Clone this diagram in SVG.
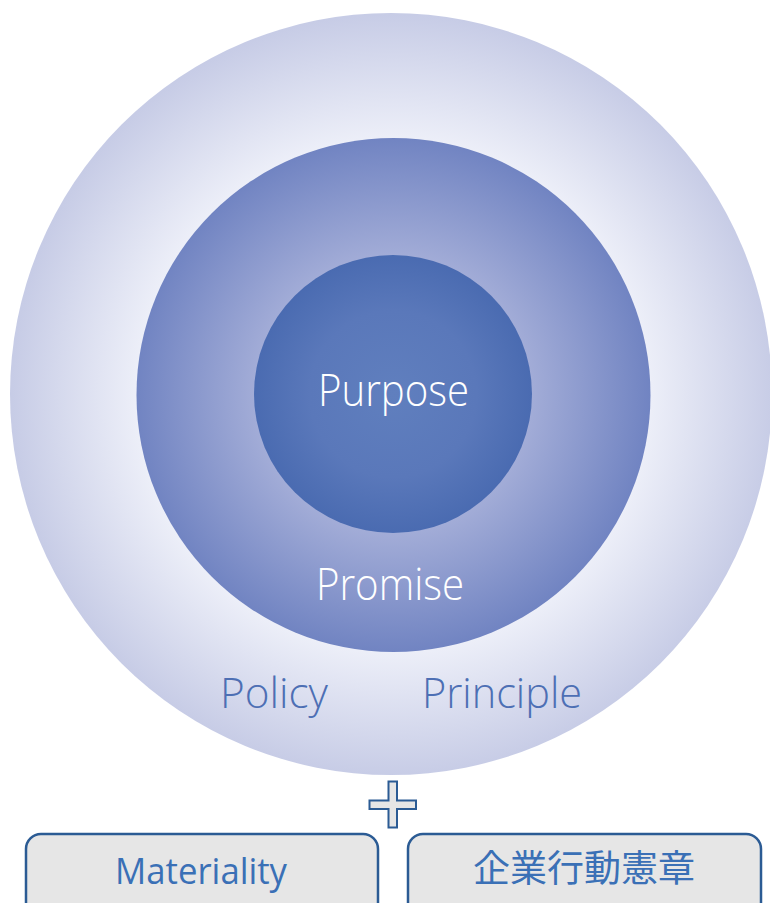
<svg xmlns="http://www.w3.org/2000/svg" width="770" height="903" viewBox="0 0 770 903">
  <defs>
    <radialGradient id="gOuter" cx="393" cy="395" r="381" gradientUnits="userSpaceOnUse">
      <stop offset="0" stop-color="#ffffff"/>
      <stop offset="0.66" stop-color="#eef0f9"/>
      <stop offset="1" stop-color="#c7cce6"/>
    </radialGradient>
    <radialGradient id="gMiddle" cx="393" cy="395" r="257" gradientUnits="userSpaceOnUse">
      <stop offset="0" stop-color="#b4bce0"/>
      <stop offset="0.54" stop-color="#a2acd7"/>
      <stop offset="1" stop-color="#7184c2"/>
    </radialGradient>
    <radialGradient id="gInner" cx="393" cy="394" r="139" gradientUnits="userSpaceOnUse">
      <stop offset="0" stop-color="#607fbe"/>
      <stop offset="0.6" stop-color="#5a78ba"/>
      <stop offset="1" stop-color="#4a6bb1"/>
    </radialGradient>
  </defs>
  <style>
    .lbl { font-family: "Open Sans", "Noto Sans", "Liberation Sans", sans-serif; font-weight: 300; }
    .white { fill: #ffffff; }
    .ring { fill: #4d6fb4; }
    .box { fill: #e6e6e6; stroke: #2b5b94; stroke-width: 2.5; }
    .boxtext { fill: #3a70b6; font-family: "Open Sans", "Noto Sans", "Noto Sans CJK JP", "Liberation Sans", sans-serif; font-weight: 400; }
  </style>

  <g id="policy-principle-circle">
    <circle cx="391" cy="394" r="381" fill="url(#gOuter)"/>
    <text class="lbl ring" x="220" y="708" font-size="42" textLength="108" lengthAdjust="spacingAndGlyphs">Policy</text>
    <text class="lbl ring" x="422" y="708" font-size="42" textLength="160" lengthAdjust="spacingAndGlyphs">Principle</text>
  </g>

  <g id="promise-circle">
    <circle cx="393.5" cy="395" r="257" fill="url(#gMiddle)"/>
    <text class="lbl white" x="316" y="600" font-size="44" textLength="148" lengthAdjust="spacingAndGlyphs">Promise</text>
  </g>

  <g id="purpose-circle">
    <circle cx="393" cy="394" r="139" fill="url(#gInner)"/>
    <text class="lbl white" x="318" y="406" font-size="44" textLength="151" lengthAdjust="spacingAndGlyphs">Purpose</text>
  </g>

  <g id="connectors">
    <path id="plus" d="M388.5,781.5 H397 V800.5 H416 V809 H397 V827.5 H388.5 V809 H369.5 V800.5 H388.5 Z" fill="#e6e6e6" stroke="#2b5b94" stroke-width="2"/>
  </g>

  <g id="materiality">
    <rect class="box" x="26" y="834" width="352" height="90" rx="15" ry="15"/>
    <text class="boxtext" x="115" y="884" font-size="36" textLength="172" lengthAdjust="spacingAndGlyphs">Materiality</text>
  </g>

  <g id="charter">
    <rect class="box" x="408" y="834" width="353" height="90" rx="15" ry="15"/>
    <text class="boxtext" x="473" y="882" font-size="37" font-family="'Noto Sans CJK JP', sans-serif" textLength="222" lengthAdjust="spacingAndGlyphs">企業行動憲章</text>
  </g>
</svg>
